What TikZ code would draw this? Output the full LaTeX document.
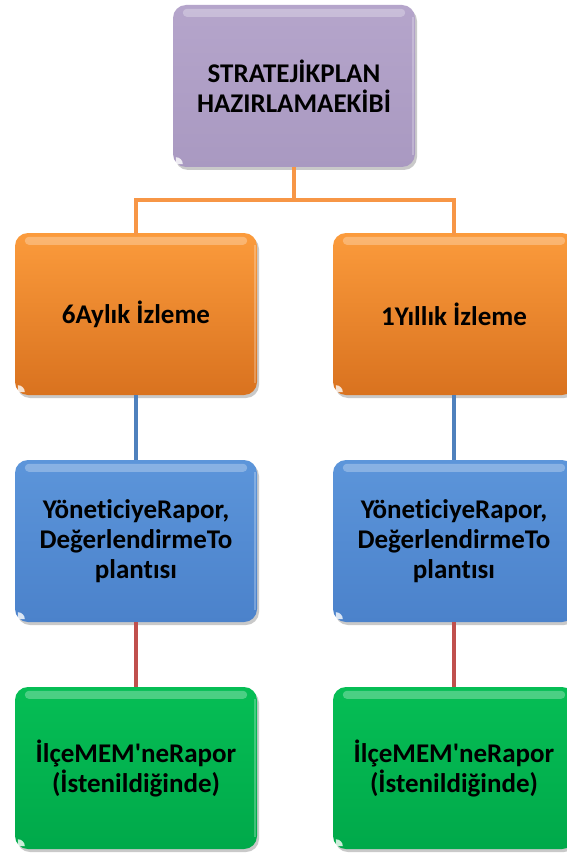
\documentclass[tikz,border=0pt]{standalone}
\usepackage{fontspec}
\setmainfont{Carlito}[Ligatures={TeXOff,CommonOff}]
\usetikzlibrary{shadows}
\definecolor{purpT}{HTML}{B5A5CB}
\definecolor{purpB}{HTML}{A999C1}
\definecolor{oranT}{HTML}{FB9B3C}
\definecolor{oranB}{HTML}{D9721F}
\definecolor{bluT}{HTML}{5C95DA}
\definecolor{bluB}{HTML}{4B82CB}
\definecolor{grnT}{HTML}{06BE55}
\definecolor{grnB}{HTML}{00A94A}
\definecolor{lnOr}{HTML}{F79646}
\definecolor{lnBl}{HTML}{4F81BD}
\definecolor{lnRd}{HTML}{C0504D}
\tikzset{
  box/.style={rounded corners=13pt, minimum width=242pt, minimum height=162pt,
    align=center, inner sep=0pt, font=\fontsize{27}{30}\selectfont\bfseries,
    text=black, drop shadow={shadow xshift=2pt, shadow yshift=-3pt, opacity=0.35, fill=black!60}},
  purpbox/.style={box, top color=purpT, bottom color=purpB},
  oranbox/.style={box, top color=oranT, bottom color=oranB},
  blubox/.style={box, top color=bluT, bottom color=bluB},
  grnbox/.style={box, top color=grnT, bottom color=grnB},
  link/.style={line width=4pt},
}
\begin{document}
\begin{tikzpicture}[x=1pt,y=-1pt]
\useasboundingbox[fill=white] (0,0) rectangle (566,853);
\coordinate (hl) at (136,200);
\coordinate (hm) at (294,200);
\coordinate (hr) at (454,200);
\node[purpbox] (top) at (294,86) {STRATEJİKPLAN\\HAZIRLAMAEKİBİ};
\node[oranbox] (o1) at (136,314) {6Aylık İzleme};
\node[oranbox] (o2) at (454,314) {1Yıllık İzleme};
\node[blubox] (b1) at (136,541) {YöneticiyeRapor,\\DeğerlendirmeTo\\plantısı};
\node[blubox] (b2) at (454,541) {YöneticiyeRapor,\\DeğerlendirmeTo\\plantısı};
\node[grnbox] (g1) at (136,768) {İlçeMEM'neRapor\\(İstenildiğinde)};
\node[grnbox] (g2) at (454,768) {İlçeMEM'neRapor\\(İstenildiğinde)};
\draw[link, lnOr] (top.south) -- (hm);
\draw[link, lnOr] (hl) -- (hr);
\draw[link, lnOr, line cap=rect] (hl) -- (o1.north);
\draw[link, lnOr, line cap=rect] (hr) -- (o2.north);
\draw[link, lnBl] (o1.south) -- (b1.north);
\draw[link, lnBl] (o2.south) -- (b2.north);
\draw[link, lnRd] (b1.south) -- (g1.north);
\draw[link, lnRd] (b2.south) -- (g2.north);
\foreach \n in {top,o1,o2,b1,b2,g1,g2}{
  \fill[white, opacity=0.28, rounded corners=4pt]
    ([xshift=10pt,yshift=-4pt]\n.north west) rectangle ([xshift=-10pt,yshift=-12pt]\n.north east);
  \fill[white, opacity=0.25]
    ([xshift=-3pt,yshift=-12pt]\n.north east) rectangle ([xshift=-1pt,yshift=12pt]\n.south east);
  \fill[white, opacity=0.8]
    ([xshift=3pt,yshift=3pt]\n.south west) -- ([xshift=10pt,yshift=3pt]\n.south west)
    arc[start angle=0, end angle=90, radius=7pt] -- cycle;
}
\end{tikzpicture}
\end{document}
